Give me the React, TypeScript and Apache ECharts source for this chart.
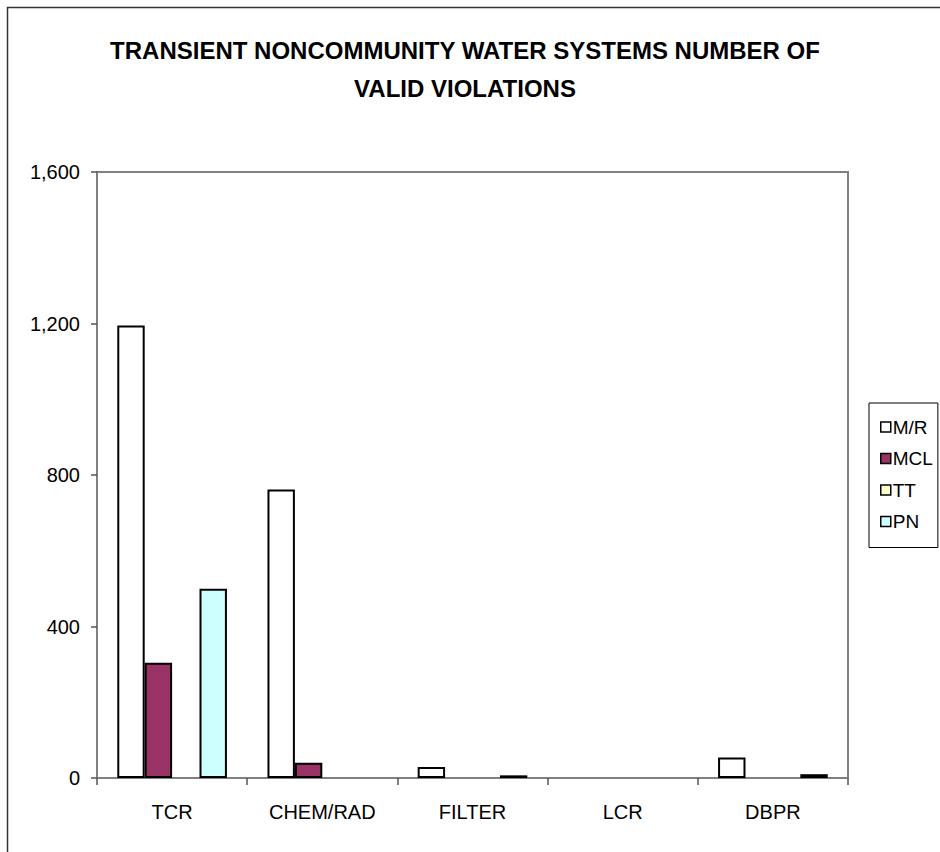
import React, { useEffect, useRef } from "react";
import * as echarts from "echarts";

const categories = ["TCR", "CHEM/RAD", "FILTER", "LCR", "DBPR"];
const seriesNames = ["M/R", "MCL", "TT", "PN"];
const mrValues = [1195, 762, 29, 0, 54];
const mclValues = [304, 40, 0, 0, 0];
const ttValues = [0, 0, 0, 0, 0];
const pnValues = [500, 0, 7, 0, 10];
const seriesColors = ["#FFFFFF", "#993366", "#FFFFCC", "#CCFFFF"];
const titleLines = ["TRANSIENT NONCOMMUNITY WATER SYSTEMS NUMBER OF", "VALID VIOLATIONS"];
const yMin = 0;
const yMax = 1600;
const yInterval = 400;

const FONT = "'Liberation Sans', Arial, sans-serif";

export default function App() {
  const ref = useRef<HTMLDivElement>(null);
  useEffect(() => {
    if (!ref.current) return;
    const chart = echarts.init(ref.current, null, { renderer: "svg" });
    const allValues = [mrValues, mclValues, ttValues, pnValues];
    const series = seriesNames.map((name, i) => ({
      name,
      type: "bar",
      data: allValues[i].map((v) => (v === 0 ? null : v)),
      barGap: "0%",
      barCategoryGap: "27%",
      itemStyle: { color: seriesColors[i], borderColor: "#000", borderWidth: 2 },
    }));
    chart.setOption({
      animation: false,
      backgroundColor: "#FFFFFF",
      textStyle: { fontFamily: FONT },
      title: {
        text: titleLines.join("\n"),
        left: 465,
        top: 31,
        padding: 0,
        textAlign: "center",
        textStyle: { fontFamily: FONT, fontSize: 24, fontWeight: "bold", color: "#000", lineHeight: 38 },
      },
      graphic: [
        {
          type: "polyline",
          shape: { points: [[7.5, 860], [7.5, 7.5], [950, 7.5]] },
          style: { stroke: "#333", lineWidth: 1.5, fill: null },
          silent: true,
        },
      ],
      legend: {
        orient: "vertical",
        left: 869,
        top: 403,
        padding: [14, 5, 16, 11],
        itemGap: 11.5,
        itemWidth: 10,
        itemHeight: 10,
        borderColor: "#000",
        borderWidth: 1,
        icon: "rect",
        data: seriesNames,
        textStyle: { fontFamily: FONT, fontSize: 19, lineHeight: 20, color: "#000", padding: [0, 0, 0, -3] },
        itemStyle: { borderColor: "#000", borderWidth: 1.5 },
      },
      grid: {
        left: 97,
        right: 92,
        top: 172,
        bottom: 74,
        show: true,
        borderColor: "#808080",
        borderWidth: 2,
        containLabel: false,
      },
      xAxis: {
        type: "category",
        data: categories,
        axisLine: { lineStyle: { color: "#808080", width: 2 } },
        axisTick: { show: true, length: 7, lineStyle: { color: "#555", width: 1.5 } },
        axisLabel: { fontFamily: FONT, fontSize: 20, color: "#000", margin: 24, interval: 0 },
      },
      yAxis: {
        type: "value",
        min: yMin,
        max: yMax,
        interval: yInterval,
        splitLine: { show: false },
        axisLine: { show: true, lineStyle: { color: "#808080", width: 2 } },
        axisTick: { show: true, length: 6, lineStyle: { color: "#555", width: 1.5 } },
        axisLabel: {
          fontFamily: FONT,
          fontSize: 20,
          color: "#000",
          margin: 17,
          formatter: (v: number) => v.toLocaleString("en-US"),
        },
      },
      series,
    });
    return () => chart.dispose();
  }, []);
  return (
    <div
      ref={ref}
      style={{ position: "fixed", left: 0, top: 0, width: 940, height: 852, background: "#fff" }}
    />
  );
}
